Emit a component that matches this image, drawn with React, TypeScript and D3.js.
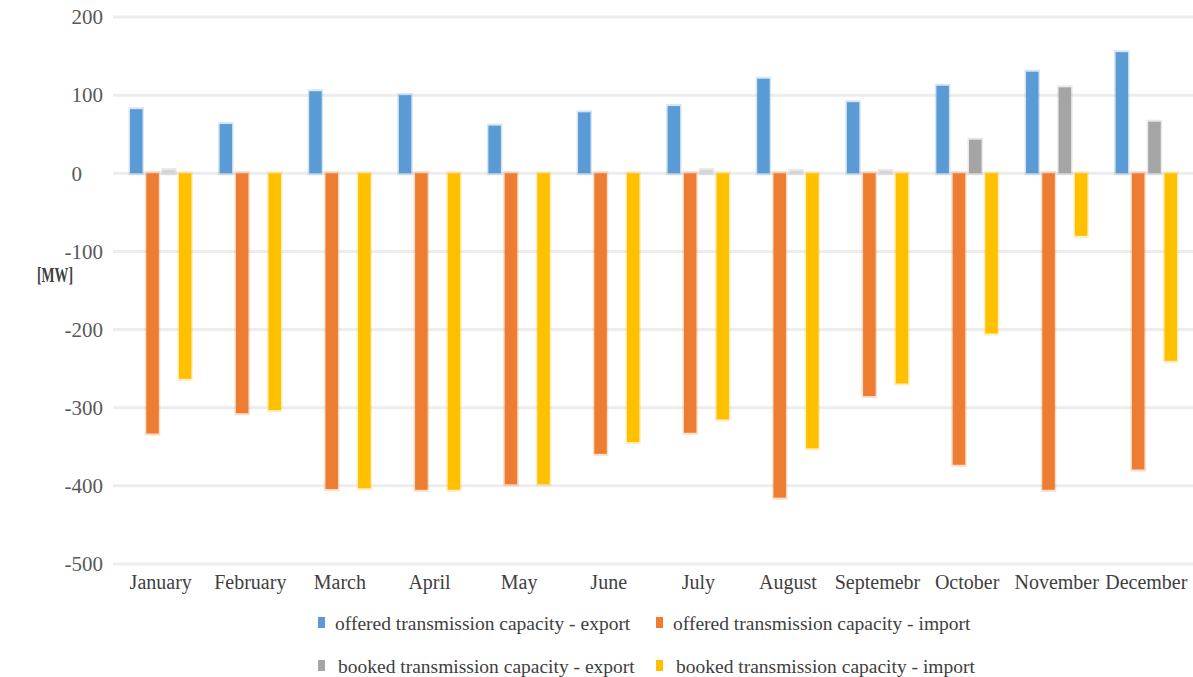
import React from "react";
import * as d3 from "d3";

const months = ["January", "February", "March", "April", "May", "June", "July", "August", "Septemebr", "October", "November", "December"];
const offeredExport = [82, 63, 105, 100, 61, 78, 86, 121, 91, 112, 130, 155];
const offeredImport = [-333, -307, -404, -405, -398, -359, -332, -415, -285, -373, -405, -379];
const bookedExport = [4, 0, 0, 0, 0, 0, 4, 3, 3, 43, 110, 66];
const bookedImport = [-263, -303, -403, -405, -398, -344, -315, -352, -269, -205, -80, -240];
const seriesNames = [
  "offered transmission capacity - export",
  "offered transmission capacity - import",
  "booked transmission capacity - export",
  "booked transmission capacity - import",
];
const seriesColors = ["#5b9bd5", "#ed7d31", "#a5a5a5", "#ffc000"];
const yTicks = [200, 100, 0, -100, -200, -300, -400, -500];

const W = 1193;
const H = 677;
const FONT = "'Liberation Serif', 'Times New Roman', serif";

export default function App() {
  const seriesValues = [offeredExport, offeredImport, bookedExport, bookedImport];
  const y = d3.scaleLinear().domain([-500, 200]).range([564, 17]);
  const x0 = d3
    .scaleBand<string>()
    .domain(months)
    .range([115.9, 1191.1])
    .paddingInner(0.315)
    .paddingOuter(0.1575);
  const x1 = d3
    .scaleBand<number>()
    .domain([0, 1, 2, 3])
    .range([0, x0.bandwidth()])
    .paddingInner(0.233)
    .paddingOuter(0);

  return (
    <svg
      width={W}
      height={H}
      style={{ position: "absolute", left: 0, top: 0, background: "#fff" }}
      fontFamily={FONT}
    >
      {/* gridlines */}
      {yTicks.map((t) => (
        <line key={"g" + t} x1={113} x2={W} y1={y(t)} y2={y(t)} stroke="#ededed" strokeWidth={3} />
      ))}
      {/* y tick labels */}
      {yTicks.map((t) => (
        <text
          key={"t" + t}
          x={103}
          dx={t === 0 ? -21 : 0}
          y={y(t)}
          dy="0.35em"
          textAnchor="end"
          fontSize={21}
          fill="#595959"
        >
          {t}
        </text>
      ))}
      <text
        x={37}
        y={274}
        dy="0.35em"
        fontSize={22}
        fill="#404040"
        fontWeight="bold"
        textLength={36}
        lengthAdjust="spacingAndGlyphs"
      >
        [MW]
      </text>
      {/* bars */}
      {months.map((m, i) => (
        <g key={m} transform={`translate(${x0(m)},0)`}>
          {seriesValues.map((vals, s) => {
            const v = vals[i];
            if (v === 0) return null;
            const top = y(Math.max(0, v));
            const bot = y(Math.min(0, v));
            const xx = x1(s)!;
            const bw = x1.bandwidth();
            const col = seriesColors[s];
            const tiny = Math.abs(v) < 10;
            return (
              <g key={s}>
                <rect x={xx - 1.5} y={top - 2} width={bw + 3} height={bot - top + 4} fill={col} opacity={0.25} />
                <rect x={xx} y={top} width={bw} height={bot - top} fill={tiny ? "#d4d4d4" : col} />
              </g>
            );
          })}
        </g>
      ))}
      {/* x labels */}
      {months.map((m) => (
        <text
          key={"x" + m}
          x={x0(m)! + x0.bandwidth() / 2}
          y={582}
          dy="0.35em"
          textAnchor="middle"
          fontSize={20}
          fill="#404040"
        >
          {m}
        </text>
      ))}
      {/* legend */}
      {seriesNames.map((name, s) => {
        const col = s % 2;
        const row = Math.floor(s / 2);
        const lx = col === 0 ? 318 : 656;
        const ly = row === 0 ? 623 : 666;
        const tx = lx + (row === 0 ? 17 : 20);
        return (
          <g key={name}>
            <rect x={lx} y={ly - 6} width={7} height={11} fill={seriesColors[s]} />
            <text x={tx} y={ly} dy="0.35em" fontSize={19.5} fill="#404040">
              {name}
            </text>
          </g>
        );
      })}
    </svg>
  );
}
